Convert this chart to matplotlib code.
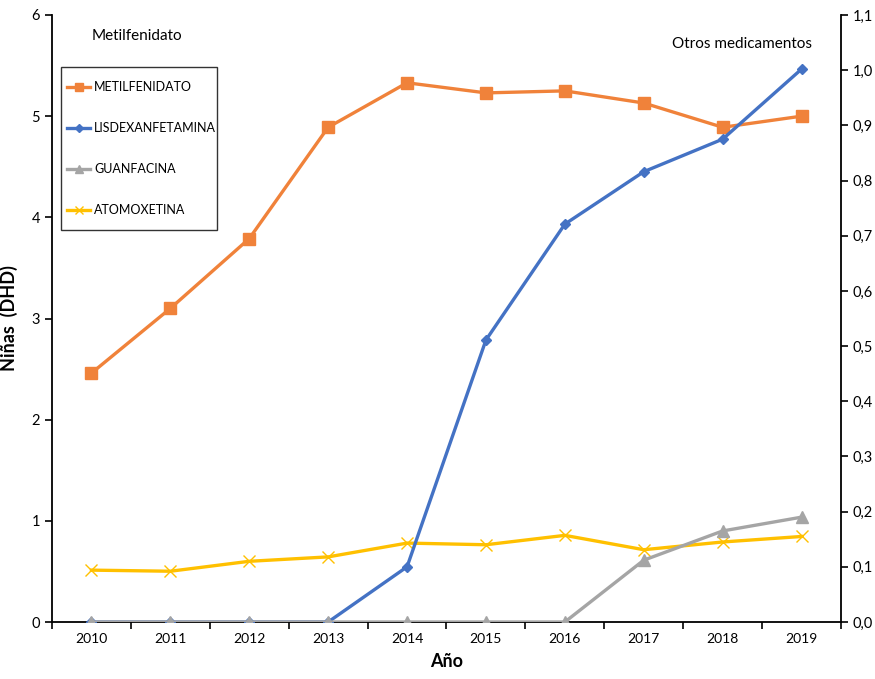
import matplotlib
matplotlib.use("Agg")
import matplotlib.pyplot as plt
from matplotlib.ticker import FuncFormatter, FixedLocator
from matplotlib.patches import Rectangle

plt.rcParams['font.family'] = ['Lato', 'DejaVu Sans']

years = ['2010', '2011', '2012', '2013', '2014', '2015', '2016', '2017', '2018', '2019']
metilfenidato = [2.46, 3.10, 3.79, 4.89, 5.33, 5.23, 5.25, 5.13, 4.89, 5.00]
lisdexanfetamina = [0.0, 0.0, 0.0, 0.0, 0.10, 0.511, 0.721, 0.816, 0.875, 1.002]
guanfacina = [0.0, 0.0, 0.0, 0.0, 0.0, 0.0, 0.0, 0.112, 0.165, 0.190]
atomoxetina = [0.094, 0.092, 0.110, 0.118, 0.143, 0.140, 0.157, 0.131, 0.145, 0.155]

c_met = '#F0823A'
c_lis = '#4472C4'
c_gua = '#A5A5A5'
c_ato = '#FFC000'

W, H = 875, 679
fig = plt.figure(figsize=(W / 100, H / 100), dpi=100)
ax = fig.add_axes([52 / W, 57 / H, 789 / W, 607 / H])
ax2 = ax.twinx()

x = list(range(len(years)))
lw = 2.4

l1, = ax.plot(x, metilfenidato, color=c_met, lw=lw, marker='s', ms=8.5,
              label='METILFENIDATO', zorder=3)
l4, = ax2.plot(x, atomoxetina, color=c_ato, lw=lw, marker='x', ms=8,
               mew=1.0, label='ATOMOXETINA', zorder=2)
l2, = ax2.plot(x, lisdexanfetamina, color=c_lis, lw=lw, marker='D', ms=5.5,
               label='LISDEXANFETAMINA', zorder=3)
l3, = ax2.plot(x, guanfacina, color=c_gua, lw=lw, marker='^', ms=9,
               label='GUANFACINA', zorder=4)

ax.set_xlim(-0.5, len(years) - 0.5)
ax.set_ylim(0, 6)
ax2.set_ylim(0, 1.1)

ax.set_xticks(x)
ax.set_xticklabels(years, fontsize=10)
ax.tick_params(axis='x', length=0, pad=8)
ax.xaxis.set_minor_locator(FixedLocator([i + 0.5 for i in range(-1, len(years))]))
ax.tick_params(axis='x', which='minor', length=5, width=1.2, direction='out')

ax.set_yticks(range(0, 7))
ax.tick_params(axis='y', length=5, width=1.2, direction='out', labelsize=10.5)
ax2.set_yticks([i / 10 for i in range(12)])
ax2.yaxis.set_major_formatter(FuncFormatter(lambda v, p: f'{v:.1f}'.replace('.', ',')))
ax2.tick_params(axis='y', length=5, width=1.2, direction='out', labelsize=10.5)

for a in (ax, ax2):
    a.spines['top'].set_visible(False)
    for s in ('left', 'right', 'bottom'):
        a.spines[s].set_linewidth(1.3)
ax2.spines['left'].set_visible(False)
ax2.spines['bottom'].set_visible(False)
ax.spines['right'].set_visible(False)

ax.set_ylabel('Niñas  (DHD)', fontsize=13, fontweight='bold', labelpad=10)
ax.set_xlabel('Año', fontsize=13, fontweight='bold', labelpad=6)

ax.text(0.05, 0.965, 'Metilfenidato', transform=ax.transAxes, fontsize=11,
        ha='left', va='center')
ax2.text(0.963, 0.952, 'Otros medicamentos', transform=ax.transAxes, fontsize=11,
         ha='right', va='center')


def px_to_axes(px, py):
    return (px - 52) / 789, (622 - py) / 607


# Legend box drawn as its own rectangle, entries placed inside it
bx0, by0 = px_to_axes(61, 230)
bx1, by1 = px_to_axes(217, 67)
ax2.add_patch(Rectangle((bx0, by0), bx1 - bx0, by1 - by0, transform=ax2.transAxes,
                        facecolor='white', edgecolor='#333333', lw=1.0, zorder=5))

lx, ly = px_to_axes(61, 75)
leg = ax2.legend(handles=[l1, l2, l3, l4], loc='upper left',
                 bbox_to_anchor=(lx, ly), fontsize=9, frameon=False,
                 labelspacing=2.32, handlelength=1.85, handletextpad=0.3,
                 borderpad=0.5, borderaxespad=0, markerscale=0.7)
leg.set_zorder(6)

fig.savefig('out.png', dpi=100)
